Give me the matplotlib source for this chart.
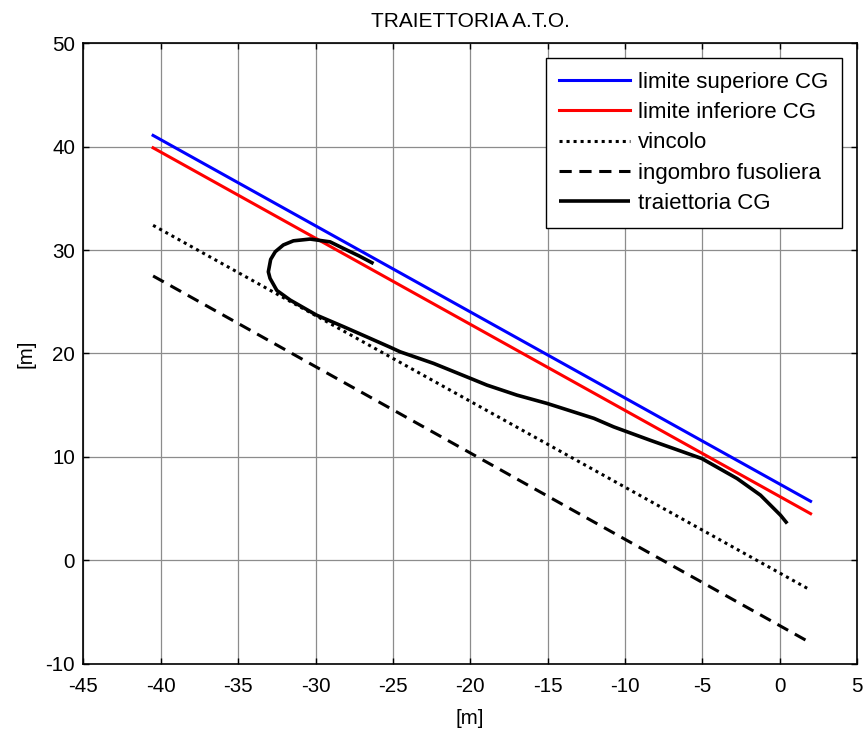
import matplotlib
matplotlib.use("Agg")
import matplotlib.pyplot as plt

plt.rcParams['font.family'] = ['Liberation Sans', 'DejaVu Sans']
plt.rcParams['axes.unicode_minus'] = False

# Limit lines (straight segments, end points in metres)
lim_x = [-40.5, 2.0]
sup_y = [41.1, 5.7]
inf_y = [39.9, 4.5]
vincolo_y = [32.4, -2.9]
fusoliera_y = [27.5, -8.0]

# CG trajectory
traj_x = [0.49, 0.05, -1.24, -2.75, -5.04, -8.36, -10.73, -12.0,
          -15.04, -16.98, -18.92, -20.0, -22.37, -24.53,
          -25.17, -26.68, -28.2, -29.92, -31.64, -32.5, -32.94, -33.05,
          -32.9, -32.6, -32.08, -31.43, -30.35, -29.06, -28.2, -27.2, -26.25]
traj_y = [3.55, 4.36, 6.29, 7.9, 9.84, 11.6, 12.9, 13.72,
          15.17, 15.97, 16.94, 17.6, 19.04, 20.16,
          20.6, 21.6, 22.6, 23.7, 25.17, 26.1, 27.27, 27.9,
          29.1, 29.85, 30.5, 30.9, 31.07, 30.8, 30.17, 29.45, 28.7]

fig = plt.figure(figsize=(8.64, 7.31), dpi=100)
ax = fig.add_axes([0.0966, 0.0923, 0.8953, 0.8483])

ax.plot(lim_x, sup_y, color='#0000ff', lw=2.2, label='limite superiore CG')
ax.plot(lim_x, inf_y, color='#ff0000', lw=2.2, label='limite inferiore CG')
ax.plot(lim_x, vincolo_y, color='black', lw=2.2, linestyle=(0, (1, 1.3)),
        label='vincolo')
ax.plot(lim_x, fusoliera_y, color='black', lw=2.2, linestyle=(0, (4, 2.5)),
        label='ingombro fusoliera')
ax.plot(traj_x, traj_y, color='black', lw=2.6, label='traiettoria CG',
        solid_capstyle='butt')

ax.set_xlim(-45, 5)
ax.set_ylim(-10, 50)
ax.set_xticks(range(-45, 6, 5))
ax.set_yticks(range(-10, 51, 10))
ax.grid(True, color='#8c8c8c', lw=0.9)
ax.tick_params(direction='in', top=True, right=True, labelsize=14.8,
               length=4, width=1)
ax.tick_params(axis='x', pad=10)
ax.tick_params(axis='y', pad=6)
for s in ax.spines.values():
    s.set_linewidth(1.2)

ax.set_title('TRAIETTORIA A.T.O.', fontsize=15, pad=12)
ax.set_xlabel('[m]', fontsize=14.8, labelpad=9)
ax.set_ylabel('[m]', fontsize=14.8, labelpad=7)

leg = ax.legend(loc='upper right', bbox_to_anchor=(0.981, 0.9766),
                fontsize=16, handlelength=3.2, handletextpad=0.35,
                borderpad=0.62, labelspacing=0.42, borderaxespad=0,
                fancybox=False, framealpha=1, edgecolor='black')
leg.get_frame().set_linewidth(1.0)

fig.savefig('out.png', dpi=100)
